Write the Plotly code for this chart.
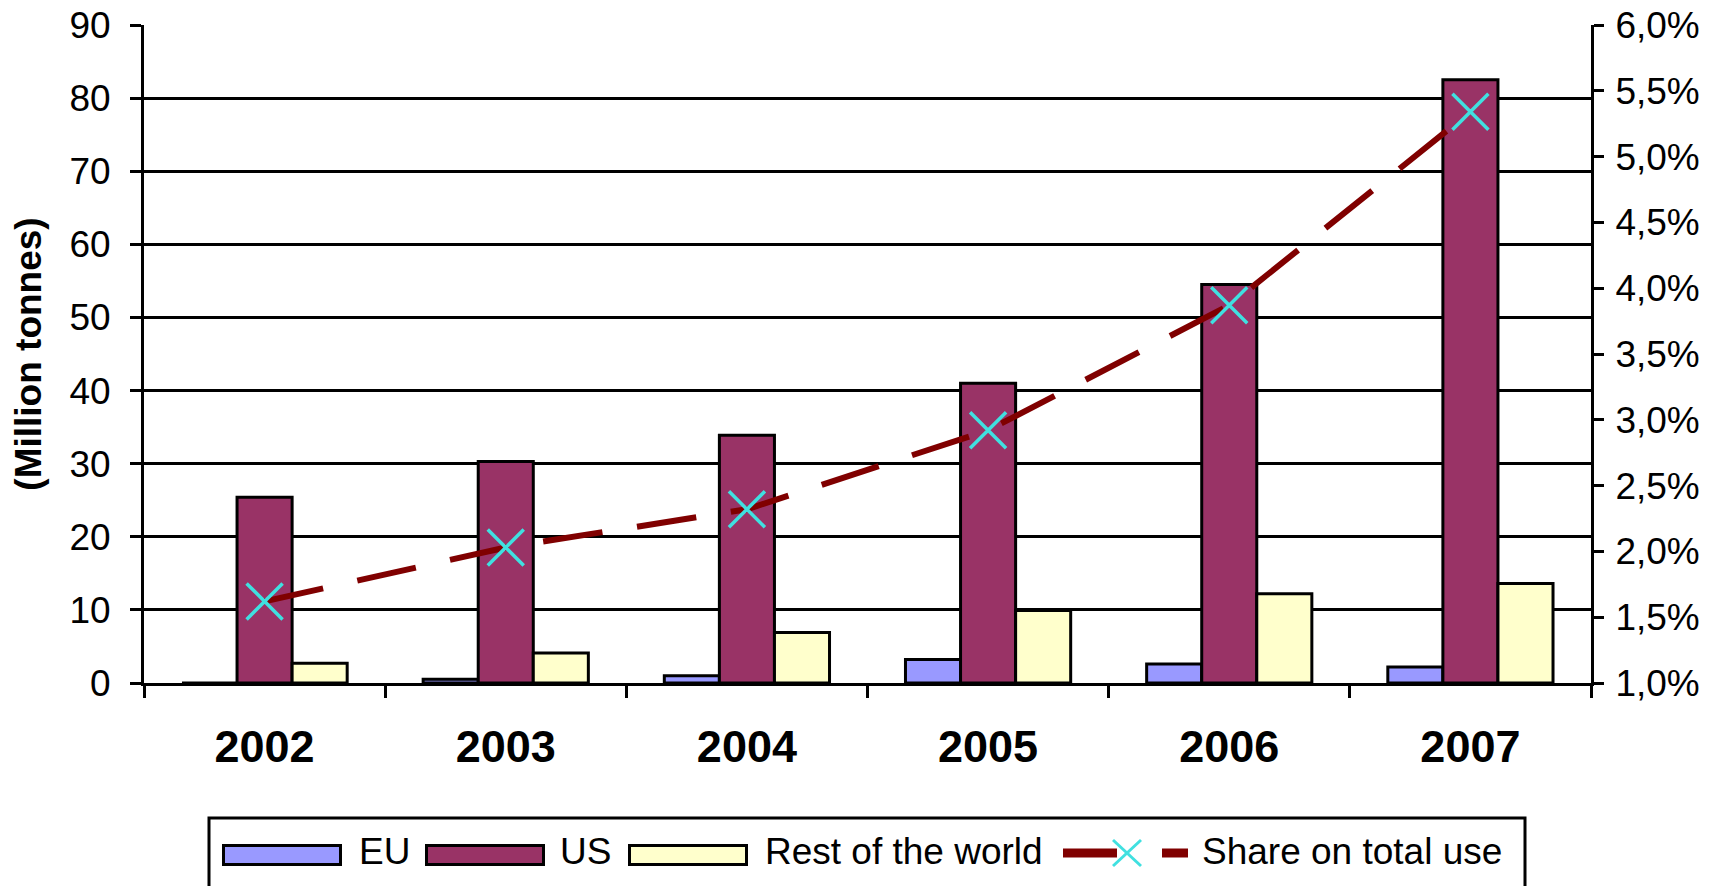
import plotly.graph_objects as go

# ---- data ----
years = ["2002", "2003", "2004", "2005", "2006", "2007"]
eu = [0.0, 0.5, 1.0, 3.2, 2.6, 2.2]
us = [25.4, 30.3, 33.9, 41.0, 54.5, 82.5]
rest_world = [2.7, 4.1, 6.9, 9.9, 12.2, 13.6]
share_pct = [1.62, 2.03, 2.32, 2.92, 3.87, 5.34]

series_names = ["EU", "US", "Rest of the world", "Share on total use"]
left_ticks = [0, 10, 20, 30, 40, 50, 60, 70, 80, 90]
right_ticks = [1.0, 1.5, 2.0, 2.5, 3.0, 3.5, 4.0, 4.5, 5.0, 5.5, 6.0]
right_labels = [f"{v:.1f}".replace(".", ",") + "%" for v in right_ticks]

# ---- styles ----
C_EU, C_US, C_REST = "#9999FF", "#993366", "#FFFFCC"
C_LINE, C_MARK = "#800000", "#40E0E0"
FONT = "Liberation Sans, Arial, sans-serif"

W, H = 1725, 886
OFF = 8  # page body margin in the browser
# plot area in page pixels
PL, PR, PT, PB = 144, 1591, 25, 683
L, R, T, B = PL - OFF, PR - OFF, PT - OFF, PB - OFF


def xp(px):
    return (px - PL) / (PR - PL)


def yp(py):
    return (PB - py) / (PB - PT)


fig = go.Figure()
for name, vals, col in zip(series_names[:3], [eu, us, rest_world], [C_EU, C_US, C_REST]):
    fig.add_trace(go.Bar(
        x=years, y=vals, name=name,
        marker=dict(color=col, line=dict(color="black", width=3)),
    ))

fig.add_trace(go.Scatter(
    x=years, y=share_pct, name=series_names[3], yaxis="y2",
    mode="lines+markers",
    line=dict(color=C_LINE, width=6, dash="60px,35px"),
    marker=dict(symbol="x-thin", size=36, color=C_MARK,
                line=dict(color=C_MARK, width=3.5)),
))

# ---- custom legend (shapes + real text) ----
shapes = []
annotations = []
shapes.append(dict(type="rect", xref="paper", yref="paper",
                   x0=xp(209), x1=xp(1525), y0=yp(818), y1=yp(910),
                   line=dict(color="black", width=3), fillcolor="white", layer="above"))
swatches = [(222, 357, C_EU), (425, 558, C_US), (628, 763, C_REST)]
for (sx, tx, col), name in zip(swatches, series_names[:3]):
    shapes.append(dict(type="rect", xref="paper", yref="paper",
                       x0=xp(sx + 1.5), x1=xp(sx + 118.5), y0=yp(845.5), y1=yp(864.5),
                       line=dict(color="black", width=3), fillcolor=col, layer="above"))
    annotations.append(dict(text=name, xref="paper", yref="paper", x=xp(tx), y=yp(851),
                            xanchor="left", yanchor="middle", showarrow=False,
                            font=dict(family=FONT, size=37, color="black")))
shapes.append(dict(type="line", xref="paper", yref="paper",
                   x0=xp(1063), x1=xp(1117), y0=yp(853), y1=yp(853),
                   line=dict(color=C_LINE, width=9), layer="above"))
shapes.append(dict(type="line", xref="paper", yref="paper",
                   x0=xp(1162), x1=xp(1188), y0=yp(853), y1=yp(853),
                   line=dict(color=C_LINE, width=9), layer="above"))
for dy in (-1, 1):
    shapes.append(dict(type="line", xref="paper", yref="paper",
                       x0=xp(1113), x1=xp(1141), y0=yp(853 - 13 * dy), y1=yp(853 + 13 * dy),
                       line=dict(color=C_MARK, width=3), layer="above"))
annotations.append(dict(text=series_names[3], xref="paper", yref="paper", x=xp(1200), y=yp(851),
                        xanchor="left", yanchor="middle", showarrow=False,
                        font=dict(family=FONT, size=37, color="black")))

fig.update_layout(
    width=W, height=H,
    margin=dict(l=L, r=W - R, t=T, b=H - B, autoexpand=False),
    paper_bgcolor="white", plot_bgcolor="white",
    barmode="group", bargap=0.315, bargroupgap=0.0,
    showlegend=False,
    font=dict(family=FONT, color="black"),
    xaxis=dict(
        type="category", tickson="boundaries", ticks="outside", ticklen=12,
        tickwidth=3, tickcolor="black", showline=True, linecolor="black", linewidth=3,
        showgrid=False, tickfont=dict(family=FONT, size=45, color="black", weight="bold"),
        ticklabelstandoff=22, zeroline=False, ticklabeloverflow="allow",
    ),
    yaxis=dict(
        range=[0, 90], tickvals=left_ticks, ticks="outside", ticklen=11, tickwidth=3,
        tickcolor="black", showline=True, linecolor="black", linewidth=3,
        showgrid=True, gridcolor="black", gridwidth=3, zeroline=False,
        tickfont=dict(family=FONT, size=37, color="black"), ticklabelstandoff=12,
        ticklabeloverflow="allow",
        title=dict(text="<b>(Million tonnes)</b>", font=dict(family=FONT, size=37, color="black"),
                   standoff=24),
    ),
    yaxis2=dict(
        range=[1, 6], tickvals=right_ticks, ticktext=right_labels,
        overlaying="y", side="right", ticks="outside", ticklen=10, tickwidth=3,
        tickcolor="black", showline=True, linecolor="black", linewidth=3,
        showgrid=False, zeroline=False, ticklabeloverflow="allow",
        tickfont=dict(family=FONT, size=37, color="black"), ticklabelstandoff=4,
    ),
    shapes=shapes,
    annotations=annotations,
)

fig.write_html("out.html")
